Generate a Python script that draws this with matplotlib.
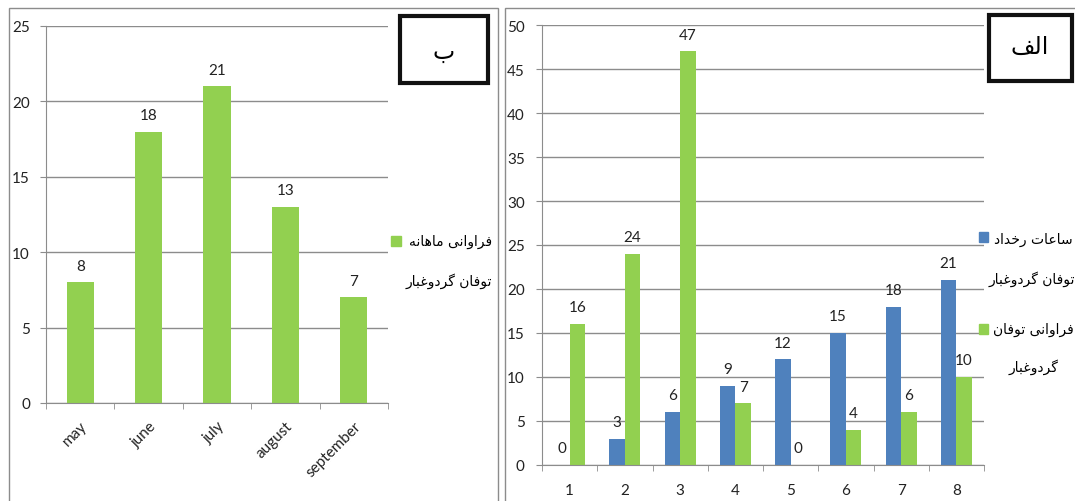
import numpy as np
import matplotlib.pyplot as plt
from matplotlib.patches import Rectangle

# ---- data ----
months = ["may", "june", "july", "august", "september"]
monthly_freq = [8, 18, 21, 13, 7]

stations = ["1", "2", "3", "4", "5", "6", "7", "8"]
storm_hours = [0, 3, 6, 9, 12, 15, 18, 21]
storm_freq = [16, 24, 47, 7, 0, 4, 6, 10]

GREEN = "#92D050"
BLUE = "#4F81BD"
GRID = "#8C8C8C"

# ---- minimal arabic/persian shaping (matplotlib has no bidi support) ----
FORMS = {
    "\u0627": ("\uFE8D", "\uFE8E", None, None),
    "\u0628": ("\uFE8F", "\uFE90", "\uFE91", "\uFE92"),
    "\u062A": ("\uFE95", "\uFE96", "\uFE97", "\uFE98"),
    "\u062E": ("\uFEA5", "\uFEA6", "\uFEA7", "\uFEA8"),
    "\u062F": ("\uFEA9", "\uFEAA", None, None),
    "\u0631": ("\uFEAD", "\uFEAE", None, None),
    "\u0633": ("\uFEB1", "\uFEB2", "\uFEB3", "\uFEB4"),
    "\u0639": ("\uFEC9", "\uFECA", "\uFECB", "\uFECC"),
    "\u063A": ("\uFECD", "\uFECE", "\uFECF", "\uFED0"),
    "\u0641": ("\uFED1", "\uFED2", "\uFED3", "\uFED4"),
    "\u0644": ("\uFEDD", "\uFEDE", "\uFEDF", "\uFEE0"),
    "\u0645": ("\uFEE1", "\uFEE2", "\uFEE3", "\uFEE4"),
    "\u0646": ("\uFEE5", "\uFEE6", "\uFEE7", "\uFEE8"),
    "\u0647": ("\uFEE9", "\uFEEA", "\uFEEB", "\uFEEC"),
    "\u0648": ("\uFEED", "\uFEEE", None, None),
    "\u06CC": ("\uFBFC", "\uFBFD", "\uFBFE", "\uFBFF"),
    "\u06AF": ("\uFB92", "\uFB93", "\uFB94", "\uFB95"),
}


def shape(text):
    out = []
    for i, ch in enumerate(text):
        if ch not in FORMS:
            out.append(ch)
            continue
        prev = text[i - 1] if i > 0 else ""
        nxt = text[i + 1] if i + 1 < len(text) else ""
        join_prev = prev in FORMS and FORMS[prev][2] is not None
        join_next = FORMS[ch][2] is not None and nxt in FORMS
        iso, fin, ini, med = FORMS[ch]
        if join_prev and join_next:
            out.append(med)
        elif join_prev:
            out.append(fin)
        elif join_next:
            out.append(ini)
        else:
            out.append(iso)
    return "".join(out)[::-1]


AR = ["DejaVu Sans"]
plt.rcParams["font.family"] = ["Lato", "DejaVu Sans"]

fig = plt.figure(figsize=(10.75, 5.02), dpi=100)
W, H = 1075, 502


def px_axes(x0, y0, x1, y1):
    return fig.add_axes([x0 / W, 1 - y1 / H, (x1 - x0) / W, (y1 - y0) / H])


def style(ax, ymax, ystep, ncat, xpad, ypad):
    ax.set_ylim(0, ymax)
    ax.set_yticks(np.arange(0, ymax + 1, ystep))
    ax.set_xlim(-0.5, ncat - 0.5)
    ax.set_xticks(np.arange(ncat))
    ax.set_xticks(np.arange(ncat + 1) - 0.5, minor=True)
    ax.yaxis.grid(True, color=GRID, lw=1)
    ax.set_axisbelow(True)
    for s in ("top", "right"):
        ax.spines[s].set_visible(False)
    for s in ("left", "bottom"):
        ax.spines[s].set_color(GRID)
    ax.tick_params(axis="y", length=4.5, color=GRID, pad=ypad, labelsize=11, labelcolor="#222222")
    ax.tick_params(axis="x", which="major", length=0, pad=xpad, labelsize=11, labelcolor="#222222")
    ax.tick_params(axis="x", which="minor", length=4, color=GRID)
    ax.patch.set_alpha(0)


def labels(ax, xs, vals):
    for x, v in zip(xs, vals):
        ax.annotate(str(v), (x, v), xytext=(0, 7), textcoords="offset points",
                    ha="center", va="bottom", fontsize=11, color="#222222")


# panel frames
fig.patches.append(Rectangle((9 / W, -0.1), 489 / W, 1.1 - 9 / H, transform=fig.transFigure,
                             fill=False, ec="#8C8C8C", lw=1))
fig.patches.append(Rectangle((505 / W, -0.1), 0.6, 1.1 - 9 / H, transform=fig.transFigure,
                             fill=False, ec="#8C8C8C", lw=1))

# ---- left panel (ب) ----
ax1 = px_axes(46, 27, 388, 404)
x1 = np.arange(len(months))
ax1.bar(x1, monthly_freq, width=0.4, color=GREEN)
style(ax1, 25, 5, len(months), 11, 7)
ax1.set_xticklabels(months, rotation=45, ha="right", rotation_mode="anchor")
labels(ax1, x1, monthly_freq)

# legend left
fig.patches.append(Rectangle((391 / W, 1 - 247 / H), 10 / W, 10 / H, transform=fig.transFigure,
                             color=GREEN))
fig.text(451 / W, 1 - 242 / H, shape("فراوانی ماهانه"), family=AR, fontsize=10,
         ha="center", va="center")
fig.text(449 / W, 1 - 281 / H, shape("توفان گردوغبار"), family=AR, fontsize=10,
         ha="center", va="center")

# box ب
fig.patches.append(Rectangle((400 / W, 1 - 84 / H), 88 / W, 67 / H, transform=fig.transFigure,
                             fill=False, ec="#111111", lw=3))
fig.text(444 / W, 1 - 52 / H, shape("ب"), family=AR, fontsize=17, ha="center", va="center")

# ---- right panel (الف) ----
ax2 = px_axes(542, 26, 984, 466)
x2 = np.arange(len(stations))
bw = 0.28
ax2.bar(x2 - bw / 2, storm_hours, width=bw, color=BLUE)
ax2.bar(x2 + bw / 2, storm_freq, width=bw, color=GREEN)
style(ax2, 50, 5, len(stations), 13, 8)
ax2.set_xticklabels(stations)
labels(ax2, x2 - bw / 2, storm_hours)
labels(ax2, x2 + bw / 2, storm_freq)

# legend right
fig.patches.append(Rectangle((979 / W, 1 - 243 / H), 9 / W, 10 / H, transform=fig.transFigure,
                             color=BLUE))
fig.text(1033 / W, 1 - 240 / H, shape("ساعات رخداد"), family=AR, fontsize=10,
         ha="center", va="center")
fig.text(1032 / W, 1 - 279 / H, shape("توفان گردوغبار"), family=AR, fontsize=10,
         ha="center", va="center")
fig.patches.append(Rectangle((979 / W, 1 - 335 / H), 9 / W, 10 / H, transform=fig.transFigure,
                             color=GREEN))
fig.text(1033 / W, 1 - 330 / H, shape("فراوانی توفان"), family=AR, fontsize=10,
         ha="center", va="center")
fig.text(1033 / W, 1 - 367 / H, shape("گردوغبار"), family=AR, fontsize=10,
         ha="center", va="center")

# box الف
fig.patches.append(Rectangle((989 / W, 1 - 82 / H), 83 / W, 66 / H, transform=fig.transFigure,
                             fill=False, ec="#111111", lw=3))
fig.text(1030 / W, 1 - 47 / H, shape("الف"), family=AR, fontsize=17, ha="center", va="center")

fig.savefig("out.png", dpi=100)
